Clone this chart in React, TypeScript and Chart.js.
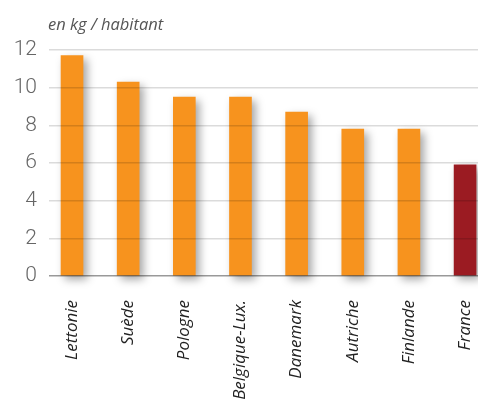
import React, { useEffect, useRef } from "react";
import { Chart, registerables } from "chart.js";

Chart.register(...registerables);

const categories = ["Lettonie", "Suède", "Pologne", "Belgique-Lux.", "Danemark", "Autriche", "Finlande", "France"];
const values = [11.7, 10.3, 9.5, 9.5, 8.7, 7.8, 7.8, 5.9];
const barColors = ["#F7931E", "#F7931E", "#F7931E", "#F7931E", "#F7931E", "#F7931E", "#F7931E", "#9B1B22"];
const unitLabel = "en kg / habitant";
const yTicks = [0, 2, 4, 6, 8, 10, 12];

const shadowPlugin = {
  id: "barShadow",
  beforeDatasetsDraw(chart: any) {
    const ctx = chart.ctx;
    ctx.save();
    ctx.shadowColor = "rgba(0,0,0,0.35)";
    ctx.shadowBlur = 8;
    ctx.shadowOffsetX = 4;
    ctx.shadowOffsetY = 4;
  },
  afterDatasetsDraw(chart: any) {
    chart.ctx.restore();
  },
};

const unitPlugin = {
  id: "unitLabel",
  afterDraw(chart: any) {
    const ctx = chart.ctx;
    ctx.save();
    ctx.font = "italic 16.5px 'Open Sans'";
    ctx.fillStyle = "#555";
    ctx.textAlign = "left";
    ctx.textBaseline = "middle";
    ctx.fillText(unitLabel, chart.chartArea.left - 1, chart.chartArea.top - 25);
    ctx.restore();
  },
};

export default function App() {
  const ref = useRef<HTMLCanvasElement>(null);
  useEffect(() => {
    const chart = new Chart(ref.current!, {
      type: "bar",
      data: {
        datasets: [
          {
            data: values.map((v, i) => ({ x: i, y: v })),
            backgroundColor: barColors,
            barThickness: 22,
            clip: false as any,
          },
        ],
      },
      options: {
        responsive: false,
        animation: false,
        layout: { padding: { top: 50, left: 0, right: 0, bottom: 0 } },
        plugins: { legend: { display: false }, tooltip: { enabled: false } },
        scales: {
          x: {
            type: "linear",
            offset: false,
            min: -0.41,
            max: 7.23,
            grid: { display: false },
            border: { display: false },
            afterFit: (s: any) => {
              s.height = 129;
              s.paddingLeft = 0;
              s.paddingRight = 0;
            },
            ticks: {
              stepSize: 1,
              includeBounds: false,
              autoSkip: false,
              minRotation: 90,
              maxRotation: 90,
              padding: 16,
              color: "#222",
              font: { family: "Open Sans", style: "italic", size: 17 },
              callback: (v: any) => (Number.isInteger(v) && categories[v] !== undefined ? categories[v] : ""),
            },
          },
          y: {
            min: 0,
            max: 12,
            afterBuildTicks: (s: any) => {
              s.ticks = yTicks.map((v) => ({ value: v }));
            },
            afterFit: (s: any) => {
              s.width = 49;
              s.paddingTop = 0;
              s.paddingBottom = 0;
            },
            grid: {
              z: 1,
              drawTicks: false,
              lineWidth: 1.5,
              color: (c: any) => (c.tick && c.tick.value === 0 ? "rgba(0,0,0,0.4)" : "rgba(0,0,0,0.14)"),
            },
            border: { display: false },
            ticks: {
              padding: 12,
              color: "#666",
              font: { family: "Roboto", weight: 300 as any, size: 21 },
            },
          },
        },
      },
      plugins: [shadowPlugin, unitPlugin],
    });
    return () => chart.destroy();
  }, []);
  return (
    <canvas
      ref={ref}
      width={478}
      height={405}
      style={{ position: "absolute", left: 0, top: 0 }}
    />
  );
}
